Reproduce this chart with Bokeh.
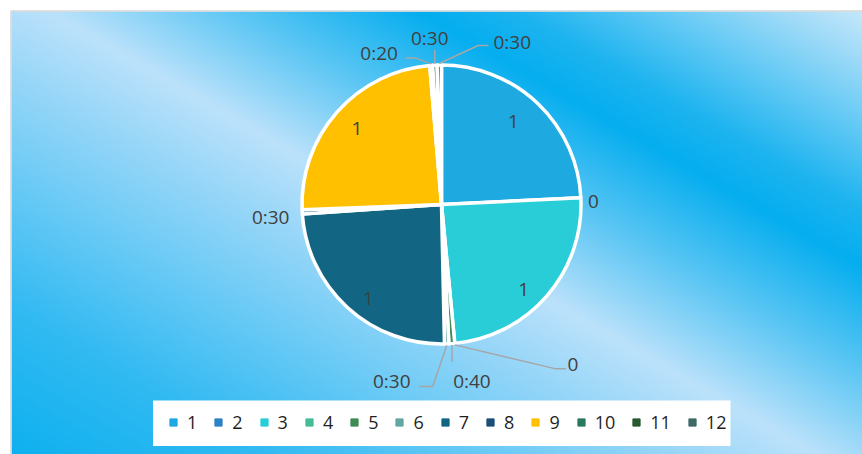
import numpy as np
from bokeh.plotting import figure
from bokeh.models import Range1d, ColumnDataSource, Legend, LegendItem
from bokeh.core.properties import value
from bokeh.embed import file_html
from bokeh.resources import INLINE

# ---------------- data ----------------
categories = ["1", "2", "3", "4", "5", "6", "7", "8", "9", "10", "11", "12"]
# values as shown by the data labels (Excel time serials: "1" = 1 day, "h:mm" = time)
value_text = ["1", "0", "1", "0", "0:40", "0:30", "1", "0:30", "1", "0:20", "0:30", "0:30"]
colors = ["#1FA9E1", "#2B82C5", "#29CDD7", "#45BC97", "#3E8B55", "#63A6A1",
          "#126684", "#1B4E7B", "#FFC000", "#29795F", "#285A32", "#3E6B65"]


def parse(t):
    if ":" in t:
        h, m = t.split(":")
        return int(h) / 24 + int(m) / 1440
    return float(t)


values = [parse(t) for t in value_text]

# ---------------- layout / style ----------------
W, H = 862, 454
CX, CY, R = 441, 204, 141          # pie centre (screen px) and outer radius
FONT = "Open Sans"
LABEL_COLOR = "#404040"
LEADER_COLOR = "#A6A6A6"

# placement of data labels (screen px offsets, y downward)
inside_off = {"1": (-6, -1), "3": (-3, 11), "7": (3, 11), "9": (0, -1)}
outside_off = {
    "2": ((11, 4), []),
    "4": ((118, 20), [(101, 24), (111, 24)]),
    "5": ((20, 36), [(0, 17)]),
    "6": ((-55, 36), [(-14, 41), (-28, 41)]),
    "8": ((-30, 5), []),
    "10": ((-52, -11), [(-16, -6), (-26, -6)]),
    "11": ((-5, -26), [(0, -14)]),
    "12": ((73, -22), [(39, -18), (49, -18)]),
}

p = figure(width=W, height=H, x_range=Range1d(0, W), y_range=Range1d(0, H),
           output_backend="svg", toolbar_location=None, min_border=0,
           x_axis_type=None, y_axis_type=None)
p.grid.visible = False
p.outline_line_color = None
p.background_fill_color = "white"
p.border_fill_color = "white"

# ---------------- background gradient ----------------
X0, Y0 = 11, 11
ys, xs = np.mgrid[Y0:H, X0:W].astype(float)
s = -0.5 * xs + 0.866 * ys
stop_s = [-440, -380, -320, -250, -200, -110, -15, 60, 150, 260, 400]
stop_c = np.array([(214, 238, 252), (160, 219, 248), (100, 202, 245), (30, 180, 240),
                   (5, 174, 239), (90, 198, 244), (188, 226, 251), (150, 214, 248),
                   (105, 202, 246), (50, 186, 242), (10, 176, 239)], dtype=float)
img = np.empty(xs.shape, dtype=np.uint32)
view = img.view(dtype=np.uint8).reshape(xs.shape + (4,))
for k in range(3):
    view[..., k] = np.interp(s, stop_s, stop_c[:, k]).astype(np.uint8)
view[..., 3] = 255
img = np.flipud(img)
p.image_rgba(image=[img], x=X0, y=0, dw=W - X0, dh=H - Y0)
p.line(x=[X0 - 0.5, X0 - 0.5, W], y=[0, H - Y0 + 0.5, H - Y0 + 0.5],
       line_color="#D6D6D6", line_width=1.5)

# ---------------- pie ----------------
total = sum(values)
cum = np.concatenate([[0], np.cumsum(values)]) / total
start_deg = cum[:-1] * 360          # clockwise from 12 o'clock
end_deg = cum[1:] * 360
mid_deg = (start_deg + end_deg) / 2

nz = [i for i, v in enumerate(values) if v > 0]
wsrc = ColumnDataSource(dict(
    start=[np.pi / 2 - np.radians(start_deg[i]) for i in nz],
    end=[np.pi / 2 - np.radians(end_deg[i]) for i in nz],
    color=[colors[i] for i in nz],
))
p.wedge(x=CX, y=H - CY, radius=R - 1.5, start_angle="start", end_angle="end",
        direction="clock", fill_color="color", line_color="white", line_width=3.5,
        source=wsrc)

# ---------------- data labels ----------------
tx, ty, tt = [], [], []
lx, ly = [], []
for i, cat in enumerate(categories):
    a = np.radians(mid_deg[i])
    if cat in inside_off:
        rr = 0.8 * R
        dx, dy = inside_off[cat]
        sx, sy = CX + rr * np.sin(a) + dx, CY - rr * np.cos(a) + dy
    else:
        ax, ay = CX + R * np.sin(a), CY - R * np.cos(a)
        (dx, dy), path = outside_off[cat]
        sx, sy = ax + dx, ay + dy
        if path:
            lx.append([ax] + [ax + u for u, _ in path])
            ly.append([H - ay] + [H - (ay + v) for _, v in path])
    tx.append(sx)
    ty.append(H - sy)
    tt.append(value_text[i])

p.multi_line(xs=lx, ys=ly, line_color=LEADER_COLOR, line_width=1.5)
p.text(x=tx, y=ty, text=tt, text_font=value(FONT), text_font_size="19px",
       text_color=LABEL_COLOR, text_align="center", text_baseline="middle")

# ---------------- legend ----------------
p.quad(left=152.5, right=730, top=H - 400, bottom=H - 445.5,
       fill_color="white", line_color=None)
lsrc = ColumnDataSource(dict(x=[np.nan] * len(categories), y=[np.nan] * len(categories),
                             c=colors))
lr = p.scatter("x", "y", source=lsrc, marker="square", size=8,
               fill_color="c", line_color="c")
items = [LegendItem(label=c, renderers=[lr], index=i) for i, c in enumerate(categories)]
legend = Legend(items=items, orientation="horizontal", location=(164, 20),
                glyph_width=18, glyph_height=18, label_standoff=5, spacing=12,
                label_width=8, padding=0, margin=0,
                background_fill_alpha=0, border_line_alpha=0,
                label_text_font=FONT, label_text_font_size="18px",
                label_text_color="#1F1F1F", label_text_baseline="middle")
p.add_layout(legend)

open("out.html", "w").write(file_html(p, INLINE))
